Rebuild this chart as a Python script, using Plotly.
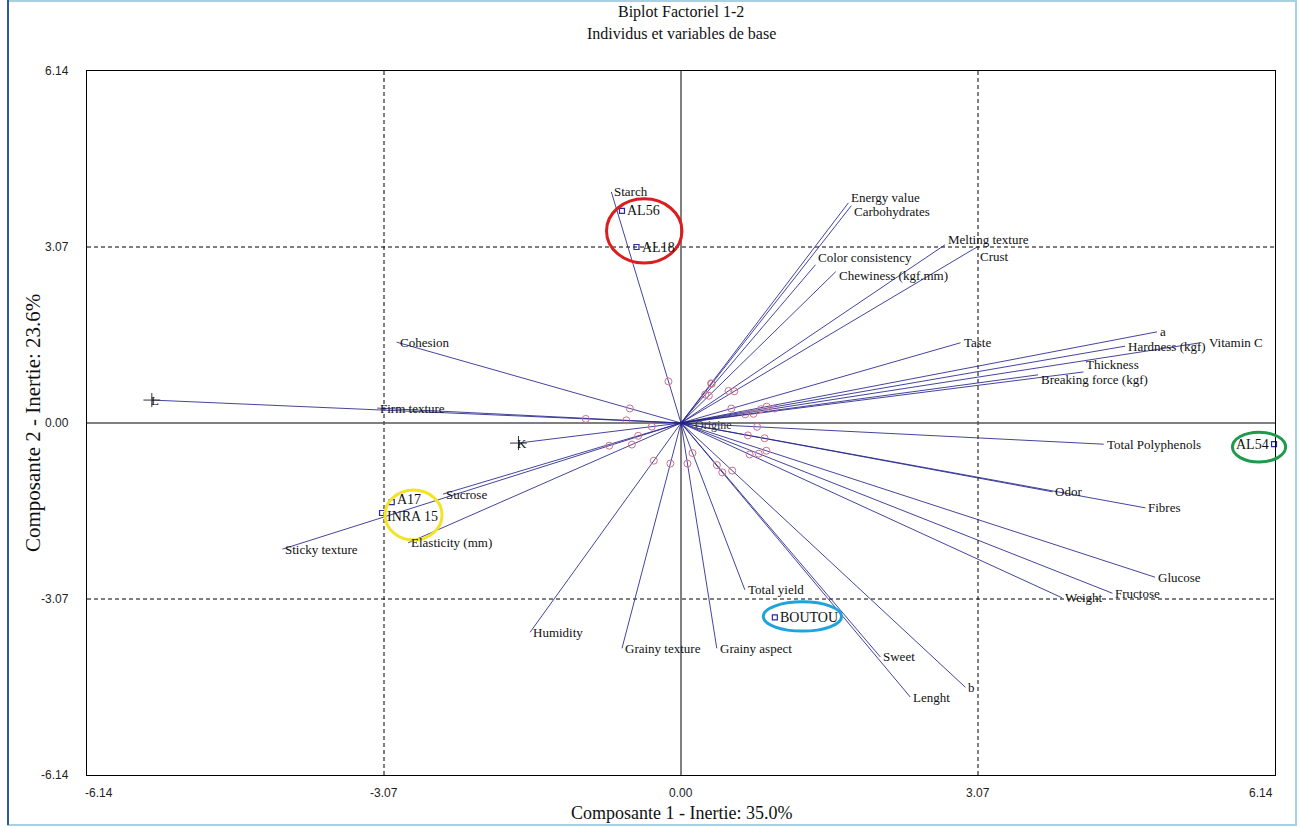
import plotly.graph_objects as go

# Variable vectors: tip coordinates on components 1 and 2
var_names = [
    "Starch", "Energy value", "Carbohydrates", "Color consistency",
    "Chewiness (kgf.mm)", "Melting texture", "Crust", "Taste", "a",
    "Vitamin C", "Hardness (kgf)", "Breaking force (kgf)", "Thickness",
    "Total Polyphenols", "Odor", "Fibres", "Glucose", "Fructose", "Weight",
    "b", "Lenght", "Sweet", "Total yield", "Grainy aspect", "Grainy texture",
    "Humidity", "Elasticity (mm)", "Sticky texture", "Sucrose",
    "Firm texture", "Cohesion",
]
var_x = [
    -0.72, 1.73, 1.76, 1.39, 1.60, 2.73, 3.06, 2.89, 4.92, 5.37, 4.59,
    3.69, 4.16, 4.37, 3.84, 4.80, 4.90, 4.46, 3.94, 2.94, 2.37, 2.06,
    0.66, 0.37, -0.61, -1.56, -2.82, -4.12, -2.46, -3.14, -2.94,
]
var_y = [
    4.03, 3.84, 3.79, 2.76, 2.64, 3.11, 3.07, 1.40, 1.59, 1.40, 1.34,
    0.84, 0.89, -0.37, -1.20, -1.48, -2.69, -2.97, -3.05, -4.61, -4.78,
    -4.08, -2.91, -3.93, -3.93, -3.65, -2.09, -2.20, -1.24, 0.26, 1.41,
]

# Supplementary variables (drawn with a cross at the tip)
sup_names = ["L", "K"]
sup_x = [-5.47, -1.68]
sup_y = [0.40, -0.35]

# Individuals
ind_names = ["AL56", "AL18", "AL54", "A17", "INRA 15", "BOUTOU"]
ind_x = [-0.61, -0.46, 6.13, -2.99, -3.09, 0.97]
ind_y = [3.70, 3.07, -0.37, -1.38, -1.57, -3.39]

# Highlighted groups of individuals: (x0, x1, y0, y1, colour)
groups = [
    (-0.77, 0.01, 2.79, 3.91, "#d81e1e"),
    (5.70, 6.25, -0.16, -0.68, "#1f9a4c"),
    (-3.06, -2.47, -1.17, -2.04, "#f2e422"),
    (0.85, 1.66, -3.12, -3.63, "#1ea3db"),
]

# pixel nudges for crowded labels (x, y)
label_nudge = {
    "Energy value": (0, 5),
    "Carbohydrates": (0, -6),
    "Color consistency": (0, 7),
    "Chewiness (kgf.mm)": (0, -4),
    "Melting texture": (0, 5),
    "Crust": (0, -9),
    "Breaking force (kgf)": (0, -5),
    "Thickness": (0, 7),
    "Vitamin C": (5, 0),
    "A17": (0, 3),
    "INRA 15": (0, -3),
}

LIM = 6.14
TICKS = [-6.14, -3.07, 0.0, 3.07, 6.14]
TICK_TEXT = ["-6.14", "-3.07", "0.00", "3.07", "6.14"]
circle_scale = 0.18  # correlation circle position relative to arrow tip

LINE_COL = "rgba(35,35,140,0.85)"
SERIF = "Liberation Serif, Times New Roman, serif"
NARROW = "Liberation Sans Narrow, Liberation Sans, Arial, sans-serif"

fig = go.Figure()

# reference lines through the origin and at +-3.07
for v in (-3.07, 3.07):
    fig.add_shape(type="line", x0=v, x1=v, y0=-LIM, y1=LIM,
                  line=dict(color="black", width=1, dash="4px,3px"), layer="below")
    fig.add_shape(type="line", x0=-LIM, x1=LIM, y0=v, y1=v,
                  line=dict(color="black", width=1, dash="4px,3px"), layer="below")
fig.add_shape(type="line", x0=0, x1=0, y0=-LIM, y1=LIM,
              line=dict(color="black", width=1), layer="below")
fig.add_shape(type="line", x0=-LIM, x1=LIM, y0=0, y1=0,
              line=dict(color="#555555", width=1.5), layer="below")

# vectors
lx, ly = [], []
for x, y in zip(var_x + sup_x, var_y + sup_y):
    lx += [0, x, None]
    ly += [0, y, None]
fig.add_trace(go.Scatter(x=lx, y=ly, mode="lines",
                         line=dict(color=LINE_COL, width=1), hoverinfo="skip"))

# correlation positions (small circles)
fig.add_trace(go.Scatter(
    x=[v * circle_scale for v in var_x + sup_x],
    y=[v * circle_scale for v in var_y + sup_y],
    mode="markers",
    marker=dict(symbol="circle-open", size=7, color="#d0708a", line=dict(width=1)),
    hoverinfo="skip"))

# supplementary variable tips
fig.add_trace(go.Scatter(x=sup_x, y=sup_y, mode="markers",
                         marker=dict(symbol="line-ew", size=12,
                                     line=dict(color="#333333", width=1)),
                         hoverinfo="skip"))
fig.add_trace(go.Scatter(x=sup_x, y=sup_y, mode="markers",
                         marker=dict(symbol="line-ns", size=10,
                                     line=dict(color="#333333", width=1)),
                         hoverinfo="skip"))

# individuals
fig.add_trace(go.Scatter(x=ind_x, y=ind_y, mode="markers", cliponaxis=False,
                         marker=dict(symbol="square-open", size=5, color="#2a2aa0",
                                     line=dict(width=1.2)),
                         hoverinfo="skip"))

annotations = []
for n, x, y in zip(var_names, var_x, var_y):
    dx, dy = label_nudge.get(n, (0, 0))
    annotations.append(dict(x=x, y=y, text=n, showarrow=False, xanchor="left",
                            yanchor="middle", xshift=1 + dx, yshift=dy,
                            font=dict(family=SERIF, size=13, color="#111111")))
for n, x, y in zip(sup_names, sup_x, sup_y):
    annotations.append(dict(x=x, y=y, text=n, showarrow=False, xanchor="left",
                            yanchor="middle", xshift=-3,
                            font=dict(family=SERIF, size=13, color="#111111")))
for n, x, y in zip(ind_names, ind_x, ind_y):
    right_edge = x > 5.5
    dx, dy = label_nudge.get(n, (0, 0))
    annotations.append(dict(x=x, y=y, text=n, showarrow=False,
                            xanchor="right" if right_edge else "left",
                            yanchor="middle",
                            xshift=(-3 if right_edge else 3) + dx, yshift=dy,
                            font=dict(family=SERIF, size=14, color="#111111")))
annotations.append(dict(x=0.0, y=0.0, text="Origine", showarrow=False,
                        xanchor="left", yanchor="middle", xshift=12, yshift=-2,
                        font=dict(family=SERIF, size=12, color="#333333")))

# tick labels
for t, s in zip(TICKS, TICK_TEXT):
    anchor = "center"
    if t == TICKS[0]:
        anchor = "left"
    elif t == TICKS[-1]:
        anchor = "right"
    annotations.append(dict(x=t, y=0, xref="x", yref="paper", text=s,
                            showarrow=False, xanchor=anchor, yanchor="middle",
                            xshift=-4 if anchor == "left" else 0, yshift=-18,
                            font=dict(family=NARROW, size=12, color="#222222")))
    annotations.append(dict(x=0, y=t, xref="paper", yref="y", text=s,
                            showarrow=False, xanchor="right", yanchor="middle",
                            xshift=-16,
                            font=dict(family=NARROW, size=12, color="#222222")))

# titles
annotations += [
    dict(x=0.5, y=1, xref="paper", yref="paper", text="Biplot Factoriel 1-2",
         showarrow=False, yanchor="middle", yshift=59,
         font=dict(family=SERIF, size=16, color="#111111")),
    dict(x=0.5, y=1, xref="paper", yref="paper",
         text="Individus et variables de base", showarrow=False,
         yanchor="middle", yshift=38,
         font=dict(family=SERIF, size=16, color="#111111")),
    dict(x=0.5, y=0, xref="paper", yref="paper",
         text="Composante 1 - Inertie: 35.0%", showarrow=False,
         yanchor="middle", yshift=-38,
         font=dict(family=SERIF, size=18, color="#111111")),
    dict(x=0, y=0.5, xref="paper", yref="paper",
         text="Composante 2 - Inertie: 23.6%", showarrow=False, textangle=-90,
         xanchor="center", xshift=-54,
         font=dict(family=SERIF, size=21, color="#111111")),
]

# highlight ellipses, placed in paper units so they may cross the frame
shapes = []
for x0, x1, y0, y1, col in groups:
    shapes.append(dict(type="circle", xref="paper", yref="paper",
                       x0=(x0 + LIM) / (2 * LIM), x1=(x1 + LIM) / (2 * LIM),
                       y0=(y0 + LIM) / (2 * LIM), y1=(y1 + LIM) / (2 * LIM),
                       line=dict(color=col, width=3)))

# outer window frame
shapes.append(dict(type="rect", xref="paper", yref="paper",
                   x0=-79 / 1188, x1=1296 / 1188 - 87 / 1188,
                   y0=-50 / 704, y1=1 + 70 / 704,
                   line=dict(color="#a9cfe3", width=2)))
shapes.append(dict(type="line", xref="paper", yref="paper",
                   x0=-79 / 1188, x1=-79 / 1188, y0=-50 / 704, y1=1 + 71 / 704,
                   line=dict(color="#2d5b9a", width=2)))

for s in shapes:
    fig.add_shape(**s)

fig.update_layout(
    width=1299, height=827,
    margin=dict(l=87, r=24, t=71, b=52),
    paper_bgcolor="white", plot_bgcolor="white",
    showlegend=False,
    annotations=annotations,
    xaxis=dict(range=[-LIM, LIM], showgrid=False, zeroline=False,
               showticklabels=False, ticks="", showline=True, mirror=True,
               linecolor="black", linewidth=1),
    yaxis=dict(range=[-LIM, LIM], showgrid=False, zeroline=False,
               showticklabels=False, ticks="", showline=True, mirror=True,
               linecolor="black", linewidth=1),
)

fig.write_html("out.html")
